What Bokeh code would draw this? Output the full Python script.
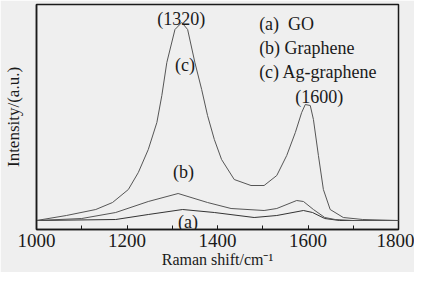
from bokeh.plotting import figure
from bokeh.models import Label, FixedTicker, Range1d
from bokeh.embed import file_html
from bokeh.resources import INLINE

# Raman shift (cm^-1) and intensity (a.u.)
c_shift = [1000, 1066, 1131, 1168, 1203, 1225, 1247, 1266, 1277, 1288, 1306, 1321,
           1334, 1350, 1365, 1378, 1393, 1409, 1437, 1474, 1503, 1531, 1553, 1572,
           1586, 1594, 1605, 1612, 1623, 1634, 1649, 1678, 1721, 1800]
c_int = [9, 14, 20, 27, 40, 57, 80, 107, 134, 167, 200, 207,
         200, 167, 140, 114, 90, 70, 50, 44, 44, 54, 74, 97,
         117, 125, 124, 110, 74, 40, 20, 12, 10, 9]

b_shift = [1000, 1100, 1175, 1247, 1313, 1378, 1430, 1503, 1531, 1575, 1590, 1612,
           1637, 1660, 1700, 1800]
b_int = [9, 11, 17, 28, 36, 27, 21, 19, 21, 29, 28, 20, 12, 10, 9, 9]

a_shift = [1000, 1175, 1247, 1323, 1393, 1481, 1531, 1590, 1610, 1637, 1670, 1800]
a_int = [9, 10, 15, 20, 17, 12, 14, 19, 17, 11, 9, 9]

x_ticks = [1000, 1200, 1400, 1600, 1800]
legend_lines = ["(a)\u00a0 GO", "(b) Graphene", "(c) Ag-graphene"]

FONT = "Liberation Serif"
BG = "#efefef"
INK = "#1a1a1a"

p = figure(width=414, height=272, output_backend="svg", toolbar_location=None,
           x_range=Range1d(1000, 1800), y_range=Range1d(0, 225),
           min_border_left=32, min_border_right=16, min_border_top=4, min_border_bottom=43)
p.background_fill_color = BG
p.border_fill_color = BG
p.outline_line_color = INK
p.outline_line_width = 1.5
p.grid.visible = False

for xs, ys, col in [(a_shift, a_int, "#333333"), (b_shift, b_int, "#555555"), (c_shift, c_int, "#555555")]:
    p.line(xs, ys, line_color=col, line_width=1)

xa = p.xaxis[0]
xa.ticker = FixedTicker(ticks=x_ticks, minor_ticks=list(range(1000, 1801, 100)))
xa.major_tick_in = 4
xa.major_tick_out = 0
xa.minor_tick_in = 4
xa.minor_tick_out = 0
xa.axis_line_color = INK
xa.axis_line_width = 1.5
xa.major_tick_line_color = INK
xa.minor_tick_line_color = INK
xa.major_label_text_font = FONT
xa.major_label_text_font_size = "19px"
xa.major_label_text_color = INK
xa.major_label_standoff = 4
xa.axis_label = "Raman shift/cm\u207b\u00b9"
xa.axis_label_text_font = FONT
xa.axis_label_text_font_size = "16px"
xa.axis_label_text_font_style = "normal"
xa.axis_label_text_color = INK
xa.axis_label_standoff = 1

ya = p.yaxis[0]
ya.ticker = FixedTicker(ticks=[])
ya.axis_line_color = INK
ya.axis_line_width = 1.5
ya.axis_label = "Intensity/(a.u.)"
ya.axis_label_text_font = FONT
ya.axis_label_text_font_size = "17px"
ya.axis_label_text_font_style = "normal"
ya.axis_label_text_color = INK
ya.axis_label_standoff = 14

def lab(x, y, t, align="center", size="18px"):
    p.add_layout(Label(x=x, y=y, text=t, text_font=FONT, text_font_size=size,
                       text_color=INK, text_align=align, text_baseline="middle"))

lab(1320, 211, "(1320)")
lab(1328, 165, "(c)")
lab(1325, 58, "(b)")
lab(1335, 8, "(a)")
lab(1625, 133, "(1600)")
for i, t in enumerate(legend_lines):
    lab(1492, 206 - i * 24, t, align="left")

open("out.html", "w").write(file_html(p, INLINE))
